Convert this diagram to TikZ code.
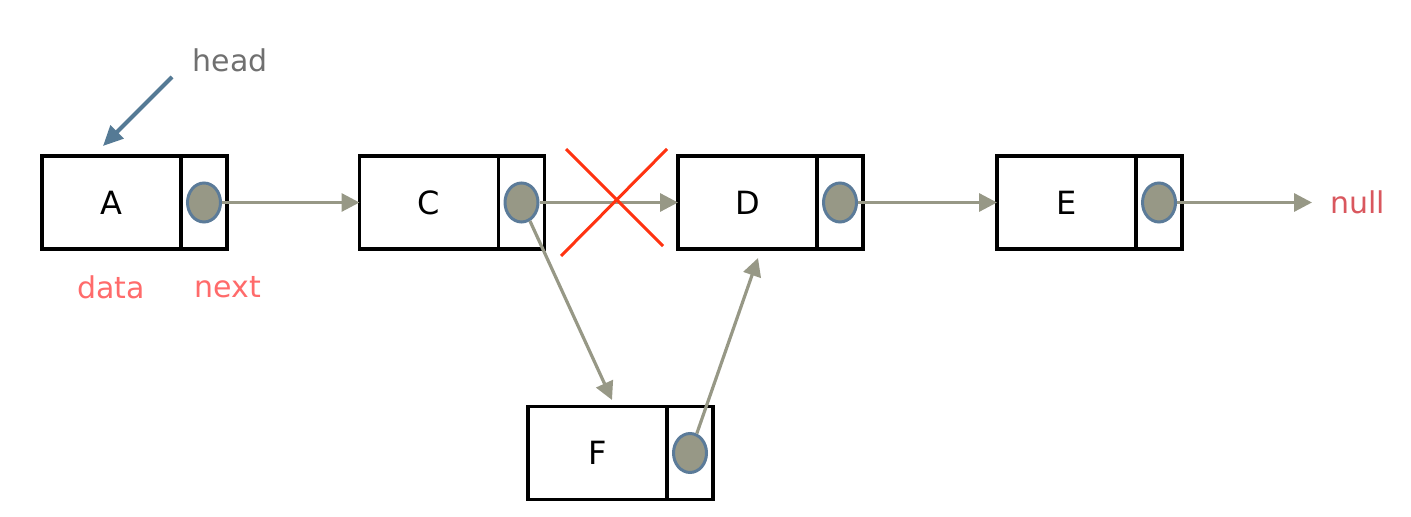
\documentclass[tikz,border=0pt]{standalone}
\usepackage{fontspec}
\setmainfont{DejaVu Sans}
\usetikzlibrary{arrows.meta,positioning,shapes.geometric}

\definecolor{linkgray}{RGB}{151,152,134}
\definecolor{ptrblue}{RGB}{91,123,153}
\definecolor{headblue}{RGB}{85,122,149}
\definecolor{headgray}{RGB}{112,112,112}
\definecolor{tagpink}{RGB}{255,107,107}
\definecolor{nullred}{RGB}{217,87,94}
\definecolor{crossred}{RGB}{255,51,17}

\tikzset{
	datacell/.style={draw, line width=1.7pt, minimum width=69.5pt, minimum height=46.5pt,
		inner sep=0pt, outer sep=0pt, font=\fontsize{16}{16}\selectfont},
	nextcell/.style={draw, line width=1.7pt, minimum width=23pt, minimum height=46.5pt,
		inner sep=0pt, outer sep=0pt},
	ptr/.style={ellipse, draw=ptrblue, fill=linkgray, line width=1.5pt,
		minimum width=16.5pt, minimum height=19.5pt, inner sep=0pt},
	link/.style={draw=linkgray, line width=1.6pt, -{Triangle[length=9pt,width=9pt]}},
	tag/.style={text=tagpink, font=\fontsize{15}{15}\selectfont},
}

\begin{document}
\begin{tikzpicture}[x=0.5pt, y=-0.5pt]
	\useasboundingbox (0,0) rectangle (1411,517);
	% list cells
	\node[datacell] (A) at (111.5,202.5) {A};
	\node[nextcell, right=0pt of A] (An) {};
	\node[datacell] (C) at (429,202.5) {C};
	\node[nextcell, right=0pt of C] (Cn) {};
	\node[datacell] (D) at (747.5,202.5) {D};
	\node[nextcell, right=0pt of D] (Dn) {};
	\node[datacell] (E) at (1066.5,202.5) {E};
	\node[nextcell, right=0pt of E] (En) {};
	\node[datacell] (F) at (597.5,453) {F};
	\node[nextcell, right=0pt of F] (Fn) {};
	% pointers
	\node[ptr] (Ap) at (An.center) {};
	\node[ptr] (Cp) at (Cn.center) {};
	\node[ptr] (Dp) at (Dn.center) {};
	\node[ptr] (Ep) at (En.center) {};
	\node[ptr] (Fp) at (Fn.center) {};
	% labels
	\node[text=headgray, font=\fontsize{15}{15}\selectfont] (head) at (230,60) {head};
	\node[tag] (data) at (111,287) {data};
	\node[tag] (next) at (228,287) {next};
	\node[text=nullred, font=\fontsize{15}{15}\selectfont, anchor=west, inner xsep=9pt] (null) at (1312,202.5) {null};
	\coordinate (headtail) at (172,77);
	\coordinate (headtip) at (103,146);
	\coordinate (Ftip) at (612,400);
	\coordinate (Dtip) at (758,258);
	% links
	\draw[headblue, line width=2pt, -{Triangle[length=10pt,width=9pt]}] (headtail) -- (headtip);
	\draw[link] (Ap) -- (C.west);
	\draw[link] (Cp) -- (D.west);
	\draw[link] (Dp) -- (E.west);
	\draw[link] (Ep) -- (Ep -| null.west);
	\draw[link] (Cp) -- (Ftip);
	\draw[link] (Fp) -- (Dtip);
	% removed link
	\draw[crossred, line width=1.5pt] (566,149) -- (663,246);
	\draw[crossred, line width=1.5pt] (667,149) -- (561,256);
\end{tikzpicture}
\end{document}
